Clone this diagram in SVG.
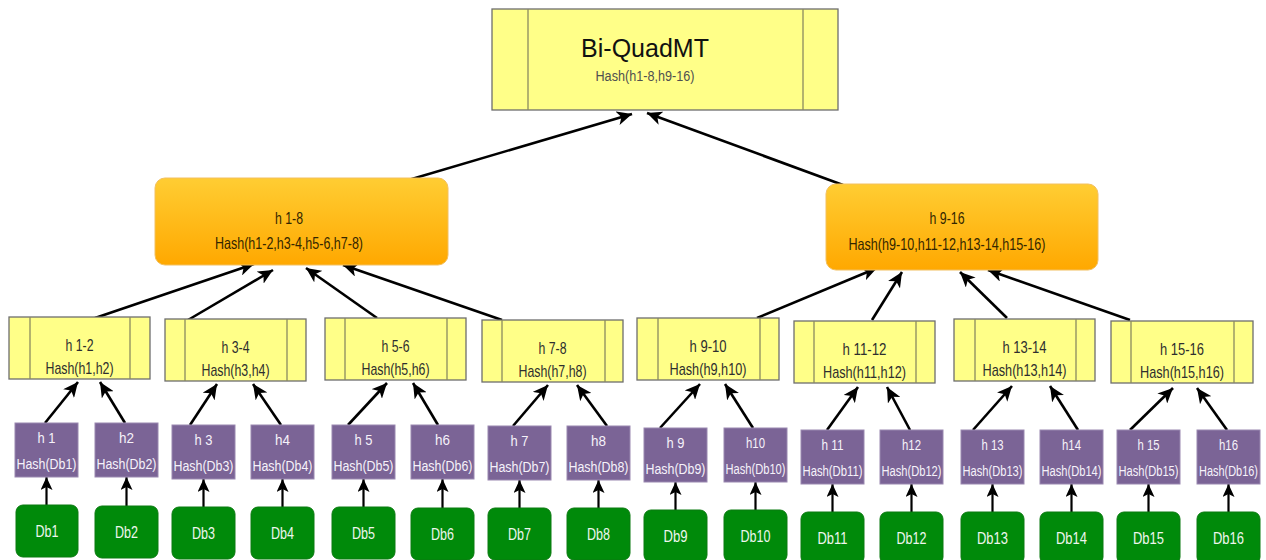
<svg xmlns="http://www.w3.org/2000/svg" width="1266" height="560" viewBox="0 0 1266 560">
<style>
.txt{font-family:"Liberation Sans Narrow","Liberation Sans",Arial,sans-serif;text-anchor:middle}
.yel{fill:#FFFF88;stroke:#6e6e6e;stroke-width:1.3}
.div{stroke:#8a8a60;stroke-width:1.3}
.pur{fill:#7B6496;stroke:#9a88b0;stroke-width:1}
.grn{fill:#008A0A;stroke:#0a7a10;stroke-width:1}
.yt{fill:#2e2e2e;font-size:17px}
.pt{fill:#f6f2fa;font-size:15.5px}
.gt{fill:#eef6ee;font-size:17px}
.ot{fill:#332600;font-size:16.5px}
.big{stroke:#000;stroke-width:2.6;fill:none;marker-end:url(#ah)}
.sm{stroke:#000;stroke-width:2.2;fill:none;marker-end:url(#ahs)}
</style>
<defs>
<linearGradient id="og" x1="0" y1="0" x2="0" y2="1">
<stop offset="0" stop-color="#FFCD33"/>
<stop offset="1" stop-color="#FFA800"/>
</linearGradient>
<marker id="ah" markerUnits="userSpaceOnUse" markerWidth="16" markerHeight="14" refX="15" refY="7" orient="auto" viewBox="0 0 16 14">
<path d="M0,0 L15,7 L0,14 L4,7 z" fill="#000"/>
</marker>
<marker id="ahs" markerUnits="userSpaceOnUse" markerWidth="14" markerHeight="12" refX="13" refY="6" orient="auto" viewBox="0 0 14 12">
<path d="M0,0 L13,6 L0,12 L3,6 z" fill="#000"/>
</marker>
</defs>

<g id="connectors">
<line class="big" x1="405" y1="181" x2="632" y2="114"/>
<line class="big" x1="843" y1="185" x2="647" y2="113"/>
<line class="big" x1="95" y1="318" x2="254" y2="264"/>
<line class="big" x1="188" y1="320" x2="273" y2="270"/>
<line class="big" x1="377" y1="318" x2="306" y2="268"/>
<line class="big" x1="502" y1="320" x2="343" y2="265"/>
<line class="big" x1="757" y1="318" x2="877" y2="268"/>
<line class="big" x1="872" y1="320" x2="902" y2="272"/>
<line class="big" x1="1007" y1="318" x2="960" y2="272"/>
<line class="big" x1="1130" y1="320" x2="988" y2="270"/>
<line class="big" x1="45" y1="423" x2="78" y2="382"/>
<line class="big" x1="125" y1="423" x2="100" y2="382"/>
<line class="big" x1="190" y1="425" x2="217" y2="384"/>
<line class="big" x1="281" y1="425" x2="253" y2="384"/>
<line class="big" x1="348" y1="425" x2="387" y2="383"/>
<line class="big" x1="438" y1="425" x2="413" y2="383"/>
<line class="big" x1="513" y1="426" x2="548" y2="385"/>
<line class="big" x1="607" y1="426" x2="577" y2="385"/>
<line class="big" x1="660" y1="428" x2="700" y2="384"/>
<line class="big" x1="753" y1="428" x2="725" y2="384"/>
<line class="big" x1="827" y1="430" x2="858" y2="387"/>
<line class="big" x1="910" y1="430" x2="887" y2="387"/>
<line class="big" x1="973" y1="430" x2="1012" y2="386"/>
<line class="big" x1="1078" y1="430" x2="1050" y2="386"/>
<line class="big" x1="1130" y1="430" x2="1173" y2="388"/>
<line class="big" x1="1227" y1="430" x2="1197" y2="388"/>
<line class="sm" x1="46.5" y1="505" x2="46.5" y2="477"/>
<line class="sm" x1="126.5" y1="506" x2="126.5" y2="477"/>
<line class="sm" x1="203.5" y1="507" x2="203.5" y2="479"/>
<line class="sm" x1="282.5" y1="507" x2="282.5" y2="479"/>
<line class="sm" x1="363.5" y1="507" x2="363.5" y2="479"/>
<line class="sm" x1="442.5" y1="508" x2="442.5" y2="479"/>
<line class="sm" x1="519.5" y1="508" x2="519.5" y2="480"/>
<line class="sm" x1="598.5" y1="508" x2="598.5" y2="480"/>
<line class="sm" x1="675.5" y1="510" x2="675.5" y2="482"/>
<line class="sm" x1="755.5" y1="510" x2="755.5" y2="482"/>
<line class="sm" x1="832.5" y1="512" x2="832.5" y2="484"/>
<line class="sm" x1="911.5" y1="512" x2="911.5" y2="484"/>
<line class="sm" x1="992.5" y1="512" x2="992.5" y2="484"/>
<line class="sm" x1="1071.5" y1="512" x2="1071.5" y2="484"/>
<line class="sm" x1="1148.5" y1="512" x2="1148.5" y2="484"/>
<line class="sm" x1="1228.5" y1="512" x2="1228.5" y2="484"/>
</g>

<g id="root">
<rect class="yel" x="492" y="9" width="346" height="101"/>
<line class="div" x1="528" y1="9" x2="528" y2="110"/>
<line class="div" x1="803" y1="9" x2="803" y2="110"/>
<text x="645" y="57" style="font-family:'Liberation Sans',Arial,sans-serif;font-size:25px;text-anchor:middle;fill:#111">Bi-QuadMT</text>
<text class="txt" x="645" y="81" style="font-size:15.5px;fill:#505050" textLength="99" lengthAdjust="spacingAndGlyphs">Hash(h1-8,h9-16)</text>
</g>

<g id="h1-8">
<rect x="155" y="178" width="293" height="87" rx="10" fill="url(#og)" stroke="#f2c060" stroke-width="1"/>
<text class="txt ot" x="289" y="224" textLength="28" lengthAdjust="spacingAndGlyphs">h 1-8</text>
<text class="txt ot" x="289" y="249" textLength="148" lengthAdjust="spacingAndGlyphs">Hash(h1-2,h3-4,h5-6,h7-8)</text>
</g>
<g id="h9-16">
<rect x="826" y="184" width="272" height="86" rx="10" fill="url(#og)" stroke="#f2c060" stroke-width="1"/>
<text class="txt ot" x="947" y="224" textLength="35" lengthAdjust="spacingAndGlyphs">h 9-16</text>
<text class="txt ot" x="947" y="250" textLength="197" lengthAdjust="spacingAndGlyphs">Hash(h9-10,h11-12,h13-14,h15-16)</text>
</g>

<g id="h1-2">
<rect class="yel" x="9" y="317" width="141" height="62"/>
<line class="div" x1="30" y1="317" x2="30" y2="379"/><line class="div" x1="130" y1="317" x2="130" y2="379"/>
<text class="txt yt" x="79.5" y="351" textLength="28" lengthAdjust="spacingAndGlyphs">h 1-2</text>
<text class="txt yt" x="79.5" y="374" textLength="68" lengthAdjust="spacingAndGlyphs">Hash(h1,h2)</text>
</g>
<g id="h3-4">
<rect class="yel" x="165" y="319" width="141" height="62"/>
<line class="div" x1="185" y1="319" x2="185" y2="381"/><line class="div" x1="287" y1="319" x2="287" y2="381"/>
<text class="txt yt" x="235.5" y="353" textLength="28" lengthAdjust="spacingAndGlyphs">h 3-4</text>
<text class="txt yt" x="235.5" y="376" textLength="68" lengthAdjust="spacingAndGlyphs">Hash(h3,h4)</text>
</g>
<g id="h5-6">
<rect class="yel" x="325" y="318" width="141" height="62"/>
<line class="div" x1="345" y1="318" x2="345" y2="380"/><line class="div" x1="447" y1="318" x2="447" y2="380"/>
<text class="txt yt" x="395.5" y="352" textLength="28" lengthAdjust="spacingAndGlyphs">h 5-6</text>
<text class="txt yt" x="395.5" y="375" textLength="68" lengthAdjust="spacingAndGlyphs">Hash(h5,h6)</text>
</g>
<g id="h7-8">
<rect class="yel" x="482" y="320" width="141" height="62"/>
<line class="div" x1="502" y1="320" x2="502" y2="382"/><line class="div" x1="605" y1="320" x2="605" y2="382"/>
<text class="txt yt" x="552.5" y="354" textLength="28" lengthAdjust="spacingAndGlyphs">h 7-8</text>
<text class="txt yt" x="552.5" y="377" textLength="68" lengthAdjust="spacingAndGlyphs">Hash(h7,h8)</text>
</g>
<g id="h9-10">
<rect class="yel" x="637" y="318" width="142" height="62"/>
<line class="div" x1="658" y1="318" x2="658" y2="380"/><line class="div" x1="760" y1="318" x2="760" y2="380"/>
<text class="txt yt" x="708" y="352" textLength="37" lengthAdjust="spacingAndGlyphs">h 9-10</text>
<text class="txt yt" x="708" y="375" textLength="77" lengthAdjust="spacingAndGlyphs">Hash(h9,h10)</text>
</g>
<g id="h11-12">
<rect class="yel" x="794" y="321" width="141" height="62"/>
<line class="div" x1="814" y1="321" x2="814" y2="383"/><line class="div" x1="916" y1="321" x2="916" y2="383"/>
<text class="txt yt" x="864.5" y="355" textLength="44" lengthAdjust="spacingAndGlyphs">h 11-12</text>
<text class="txt yt" x="864.5" y="378" textLength="83" lengthAdjust="spacingAndGlyphs">Hash(h11,h12)</text>
</g>
<g id="h13-14">
<rect class="yel" x="954" y="319" width="141" height="62"/>
<line class="div" x1="975" y1="319" x2="975" y2="381"/><line class="div" x1="1076" y1="319" x2="1076" y2="381"/>
<text class="txt yt" x="1024.5" y="353" textLength="44" lengthAdjust="spacingAndGlyphs">h 13-14</text>
<text class="txt yt" x="1024.5" y="376" textLength="84" lengthAdjust="spacingAndGlyphs">Hash(h13,h14)</text>
</g>
<g id="h15-16">
<rect class="yel" x="1111" y="321" width="142" height="62"/>
<line class="div" x1="1131" y1="321" x2="1131" y2="383"/><line class="div" x1="1234" y1="321" x2="1234" y2="383"/>
<text class="txt yt" x="1182" y="355" textLength="44" lengthAdjust="spacingAndGlyphs">h 15-16</text>
<text class="txt yt" x="1182" y="378" textLength="84" lengthAdjust="spacingAndGlyphs">Hash(h15,h16)</text>
</g>

<g id="h1"><rect class="pur" x="15" y="423" width="63" height="54"/><text class="txt pt" x="46.5" y="443" textLength="18" lengthAdjust="spacingAndGlyphs">h 1</text><text class="txt pt" x="46.5" y="469" textLength="60" lengthAdjust="spacingAndGlyphs">Hash(Db1)</text></g>
<g id="h2"><rect class="pur" x="95" y="423" width="63" height="54"/><text class="txt pt" x="126.5" y="443" textLength="15" lengthAdjust="spacingAndGlyphs">h2</text><text class="txt pt" x="126.5" y="469" textLength="60" lengthAdjust="spacingAndGlyphs">Hash(Db2)</text></g>
<g id="h3"><rect class="pur" x="172" y="425" width="63" height="54"/><text class="txt pt" x="203.5" y="445" textLength="18" lengthAdjust="spacingAndGlyphs">h 3</text><text class="txt pt" x="203.5" y="471" textLength="60" lengthAdjust="spacingAndGlyphs">Hash(Db3)</text></g>
<g id="h4"><rect class="pur" x="251" y="425" width="63" height="54"/><text class="txt pt" x="282.5" y="445" textLength="15" lengthAdjust="spacingAndGlyphs">h4</text><text class="txt pt" x="282.5" y="471" textLength="60" lengthAdjust="spacingAndGlyphs">Hash(Db4)</text></g>
<g id="h5"><rect class="pur" x="332" y="425" width="63" height="54"/><text class="txt pt" x="363.5" y="445" textLength="18" lengthAdjust="spacingAndGlyphs">h 5</text><text class="txt pt" x="363.5" y="471" textLength="60" lengthAdjust="spacingAndGlyphs">Hash(Db5)</text></g>
<g id="h6"><rect class="pur" x="411" y="425" width="63" height="54"/><text class="txt pt" x="442.5" y="445" textLength="15" lengthAdjust="spacingAndGlyphs">h6</text><text class="txt pt" x="442.5" y="471" textLength="60" lengthAdjust="spacingAndGlyphs">Hash(Db6)</text></g>
<g id="h7"><rect class="pur" x="488" y="426" width="63" height="54"/><text class="txt pt" x="519.5" y="446" textLength="18" lengthAdjust="spacingAndGlyphs">h 7</text><text class="txt pt" x="519.5" y="472" textLength="60" lengthAdjust="spacingAndGlyphs">Hash(Db7)</text></g>
<g id="h8"><rect class="pur" x="567" y="426" width="63" height="54"/><text class="txt pt" x="598.5" y="446" textLength="15" lengthAdjust="spacingAndGlyphs">h8</text><text class="txt pt" x="598.5" y="472" textLength="60" lengthAdjust="spacingAndGlyphs">Hash(Db8)</text></g>
<g id="h9"><rect class="pur" x="644" y="428" width="63" height="54"/><text class="txt pt" x="675.5" y="448" textLength="18" lengthAdjust="spacingAndGlyphs">h 9</text><text class="txt pt" x="675.5" y="474" textLength="60" lengthAdjust="spacingAndGlyphs">Hash(Db9)</text></g>
<g id="h10"><rect class="pur" x="724" y="428" width="63" height="54"/><text class="txt pt" x="755.5" y="448" textLength="19" lengthAdjust="spacingAndGlyphs">h10</text><text class="txt pt" x="755.5" y="474" textLength="60" lengthAdjust="spacingAndGlyphs">Hash(Db10)</text></g>
<g id="h11"><rect class="pur" x="801" y="430" width="63" height="54"/><text class="txt pt" x="832.5" y="450" textLength="22" lengthAdjust="spacingAndGlyphs">h 11</text><text class="txt pt" x="832.5" y="476" textLength="60" lengthAdjust="spacingAndGlyphs">Hash(Db11)</text></g>
<g id="h12"><rect class="pur" x="880" y="430" width="63" height="54"/><text class="txt pt" x="911.5" y="450" textLength="19" lengthAdjust="spacingAndGlyphs">h12</text><text class="txt pt" x="911.5" y="476" textLength="60" lengthAdjust="spacingAndGlyphs">Hash(Db12)</text></g>
<g id="h13"><rect class="pur" x="961" y="430" width="63" height="54"/><text class="txt pt" x="992.5" y="450" textLength="22" lengthAdjust="spacingAndGlyphs">h 13</text><text class="txt pt" x="992.5" y="476" textLength="60" lengthAdjust="spacingAndGlyphs">Hash(Db13)</text></g>
<g id="h14"><rect class="pur" x="1040" y="430" width="63" height="54"/><text class="txt pt" x="1071.5" y="450" textLength="19" lengthAdjust="spacingAndGlyphs">h14</text><text class="txt pt" x="1071.5" y="476" textLength="60" lengthAdjust="spacingAndGlyphs">Hash(Db14)</text></g>
<g id="h15"><rect class="pur" x="1117" y="430" width="63" height="54"/><text class="txt pt" x="1148.5" y="450" textLength="22" lengthAdjust="spacingAndGlyphs">h 15</text><text class="txt pt" x="1148.5" y="476" textLength="60" lengthAdjust="spacingAndGlyphs">Hash(Db15)</text></g>
<g id="h16"><rect class="pur" x="1197" y="430" width="63" height="54"/><text class="txt pt" x="1228.5" y="450" textLength="19" lengthAdjust="spacingAndGlyphs">h16</text><text class="txt pt" x="1228.5" y="476" textLength="59" lengthAdjust="spacingAndGlyphs">Hash(Db16)</text></g>

<g id="Db1"><rect class="grn" x="16" y="505" width="62" height="52" rx="7"/><text class="txt gt" x="47" y="537" textLength="23" lengthAdjust="spacingAndGlyphs">Db1</text></g>
<g id="Db2"><rect class="grn" x="95" y="506" width="63" height="52" rx="7"/><text class="txt gt" x="126.5" y="538" textLength="23" lengthAdjust="spacingAndGlyphs">Db2</text></g>
<g id="Db3"><rect class="grn" x="172" y="507" width="63" height="52" rx="7"/><text class="txt gt" x="203.5" y="539" textLength="23" lengthAdjust="spacingAndGlyphs">Db3</text></g>
<g id="Db4"><rect class="grn" x="251" y="507" width="63" height="52" rx="7"/><text class="txt gt" x="282.5" y="539" textLength="23" lengthAdjust="spacingAndGlyphs">Db4</text></g>
<g id="Db5"><rect class="grn" x="332" y="507" width="63" height="52" rx="7"/><text class="txt gt" x="363.5" y="539" textLength="23" lengthAdjust="spacingAndGlyphs">Db5</text></g>
<g id="Db6"><rect class="grn" x="411" y="508" width="63" height="52" rx="7"/><text class="txt gt" x="442.5" y="540" textLength="23" lengthAdjust="spacingAndGlyphs">Db6</text></g>
<g id="Db7"><rect class="grn" x="488" y="508" width="63" height="52" rx="7"/><text class="txt gt" x="519.5" y="540" textLength="23" lengthAdjust="spacingAndGlyphs">Db7</text></g>
<g id="Db8"><rect class="grn" x="567" y="508" width="63" height="52" rx="7"/><text class="txt gt" x="598.5" y="540" textLength="23" lengthAdjust="spacingAndGlyphs">Db8</text></g>
<g id="Db9"><rect class="grn" x="644" y="510" width="63" height="52" rx="7"/><text class="txt gt" x="675.5" y="542" textLength="24" lengthAdjust="spacingAndGlyphs">Db9</text></g>
<g id="Db10"><rect class="grn" x="724" y="510" width="63" height="52" rx="7"/><text class="txt gt" x="755.5" y="542" textLength="30" lengthAdjust="spacingAndGlyphs">Db10</text></g>
<g id="Db11"><rect class="grn" x="801" y="512" width="63" height="52" rx="7"/><text class="txt gt" x="832.5" y="544" textLength="30" lengthAdjust="spacingAndGlyphs">Db11</text></g>
<g id="Db12"><rect class="grn" x="880" y="512" width="63" height="52" rx="7"/><text class="txt gt" x="911.5" y="544" textLength="30" lengthAdjust="spacingAndGlyphs">Db12</text></g>
<g id="Db13"><rect class="grn" x="961" y="512" width="63" height="52" rx="7"/><text class="txt gt" x="992.5" y="544" textLength="31" lengthAdjust="spacingAndGlyphs">Db13</text></g>
<g id="Db14"><rect class="grn" x="1040" y="512" width="63" height="52" rx="7"/><text class="txt gt" x="1071.5" y="544" textLength="31" lengthAdjust="spacingAndGlyphs">Db14</text></g>
<g id="Db15"><rect class="grn" x="1117" y="512" width="63" height="52" rx="7"/><text class="txt gt" x="1148.5" y="544" textLength="31" lengthAdjust="spacingAndGlyphs">Db15</text></g>
<g id="Db16"><rect class="grn" x="1197" y="512" width="63" height="52" rx="7"/><text class="txt gt" x="1228.5" y="544" textLength="31" lengthAdjust="spacingAndGlyphs">Db16</text></g>
</svg>
